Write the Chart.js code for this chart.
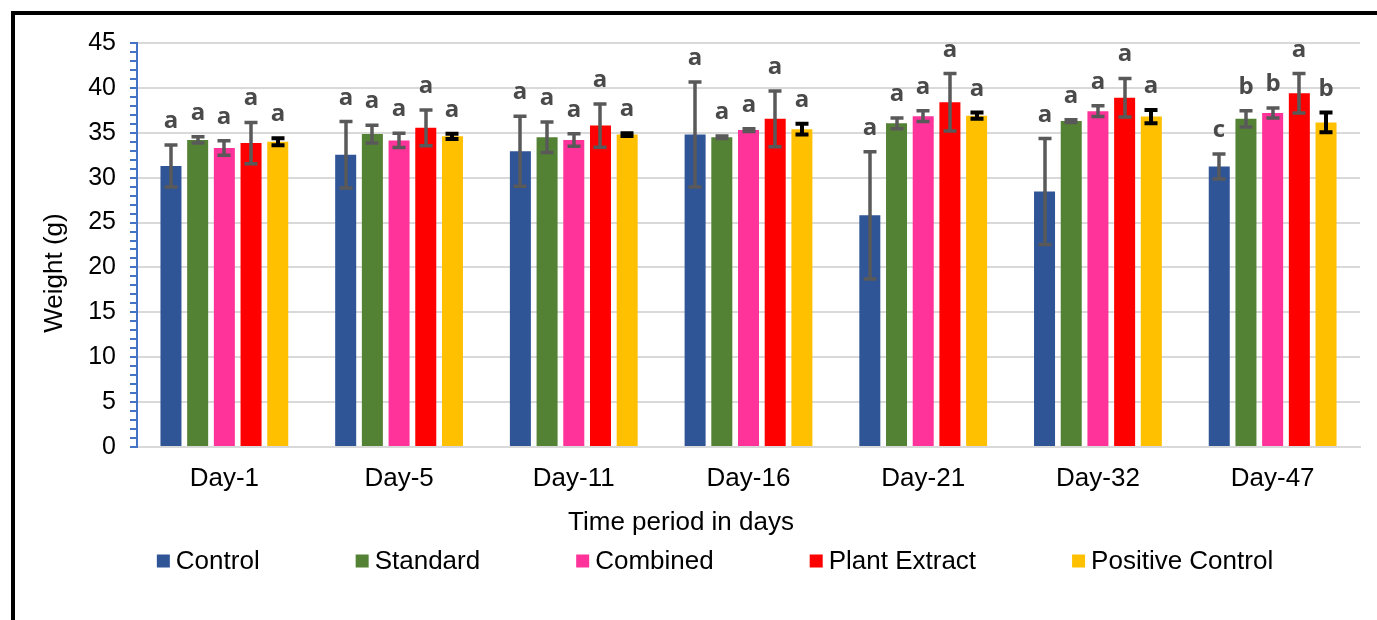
<!DOCTYPE html>
<html>
<head>
<meta charset="utf-8">
<script src="https://cdn.jsdelivr.net/npm/chart.js@4.4.0/dist/chart.umd.min.js"></script>
<style>
  html, body { margin: 0; padding: 0; background: #ffffff; }
  #wrap { width: 1377px; height: 620px; position: relative; }
</style>
</head>
<body>
<div id="wrap"><canvas id="c" width="1377" height="620"></canvas></div>
<script>
// ---- data ----
const categories = ['Day-1', 'Day-5', 'Day-11', 'Day-16', 'Day-21', 'Day-32', 'Day-47'];
const seriesNames = ['Control', 'Standard', 'Combined', 'Plant Extract', 'Positive Control'];
const control = [31.3, 32.55, 32.95, 34.8, 25.8, 28.45, 31.25];
const controlErr = [2.35, 3.7, 3.9, 5.85, 7.1, 5.9, 1.4];
const standard = [34.2, 34.85, 34.5, 34.5, 36.05, 36.3, 36.55];
const standardErr = [0.35, 1.0, 1.7, 0.15, 0.6, 0.15, 0.9];
const combined = [33.3, 34.15, 34.2, 35.3, 36.85, 37.4, 37.2];
const combinedErr = [0.8, 0.8, 0.7, 0.15, 0.6, 0.6, 0.55];
const plantExtract = [33.85, 35.55, 35.8, 36.55, 38.4, 38.9, 39.4];
const plantExtractErr = [2.3, 2.0, 2.4, 3.1, 3.2, 2.15, 2.2];
const positiveControl = [34.0, 34.6, 34.8, 35.4, 36.9, 36.8, 36.15];
const positiveControlErr = [0.4, 0.3, 0.15, 0.6, 0.35, 0.75, 1.1];
const controlLetters = ['a', 'a', 'a', 'a', 'a', 'a', 'c'];
const standardLetters = ['a', 'a', 'a', 'a', 'a', 'a', 'b'];
const combinedLetters = ['a', 'a', 'a', 'a', 'a', 'a', 'b'];
const plantExtractLetters = ['a', 'a', 'a', 'a', 'a', 'a', 'a'];
const positiveControlLetters = ['a', 'a', 'a', 'a', 'a', 'a', 'b'];
const yTickMin = 0, yTickMax = 45, yMajorStep = 5;

// ---- styles ----
const colors = ['#2F5597', '#548235', '#FF3399', '#FF0000', '#FFC000'];
const errColors = ['#595959', '#595959', '#595959', '#595959', '#000000'];
const values = [control, standard, combined, plantExtract, positiveControl];
const errors = [controlErr, standardErr, combinedErr, plantExtractErr, positiveControlErr];
const letters = [controlLetters, standardLetters, combinedLetters, plantExtractLetters, positiveControlLetters];
const FONT = 'Arial, "Liberation Sans", sans-serif';

const datasets = seriesNames.map((name, i) => ({
  label: name,
  data: values[i],
  backgroundColor: colors[i],
  borderWidth: 0,
  categoryPercentage: 0.764,
  barPercentage: 0.787
}));

const decorPlugin = {
  id: 'decor',
  afterDatasetsDraw(chart) {
    const ctx = chart.ctx;
    const ys = chart.scales.y;
    ctx.save();
    datasets.forEach((ds, i) => {
      const meta = chart.getDatasetMeta(i);
      meta.data.forEach((el, j) => {
        const v = values[i][j], e = errors[i][j];
        const yTop = ys.getPixelForValue(v + e);
        const yBot = ys.getPixelForValue(v - e);
        const x = Math.round(el.x);
        ctx.strokeStyle = errColors[i];
        ctx.lineWidth = i === 4 ? 4 : 3.5;
        ctx.lineCap = 'butt';
        ctx.beginPath();
        ctx.moveTo(x, yTop); ctx.lineTo(x, yBot);
        ctx.moveTo(x - 6.5, yTop); ctx.lineTo(x + 6.5, yTop);
        ctx.moveTo(x - 6.5, yBot); ctx.lineTo(x + 6.5, yBot);
        ctx.stroke();
        // significance letter
        ctx.fillStyle = '#4a4a4a';
        ctx.font = 'bold 24px "Open Sans", sans-serif';
        ctx.textAlign = 'center';
        ctx.textBaseline = 'alphabetic';
        ctx.fillText(letters[i][j], x, yTop - 17);
      });
    });
    ctx.restore();
  },
  afterDraw(chart) {
    const ctx = chart.ctx;
    ctx.save();
    // frame
    ctx.fillStyle = '#000000';
    ctx.fillRect(11, 11, chart.width - 11, 4);
    ctx.fillRect(11, 11, 4, chart.height - 11);
    // axis titles
    ctx.fillStyle = '#000000';
    ctx.font = '26px ' + FONT;
    ctx.textAlign = 'center';
    ctx.textBaseline = 'middle';
    ctx.fillText('Time period in days', 681, 523);
    ctx.save();
    ctx.translate(55, 273);
    ctx.rotate(-Math.PI / 2);
    ctx.fillText('Weight (g)', 0, 0);
    ctx.restore();
    // legend
    ctx.font = '26px ' + FONT;
    ctx.textAlign = 'left';
    const box = 13, boxGap = 6, itemGap = 96;
    const widths = seriesNames.map(n => ctx.measureText(n).width);
    const total = widths.reduce((a, w) => a + box + boxGap + w, 0) + itemGap * (seriesNames.length - 1);
    let x = 715 - total / 2;
    const ly = 561;
    seriesNames.forEach((n, i) => {
      ctx.fillStyle = colors[i];
      ctx.fillRect(x, ly - box / 2, box, box);
      ctx.fillStyle = '#000000';
      ctx.fillText(n, x + box + boxGap, ly + 1);
      x += box + boxGap + widths[i] + itemGap;
    });
    ctx.restore();
  }
};

new Chart(document.getElementById('c'), {
  type: 'bar',
  data: { labels: categories, datasets },
  options: {
    responsive: false,
    devicePixelRatio: 1,
    animation: false,
    layout: { padding: { left: 0, right: 17, top: 43, bottom: 0 } },
    plugins: { legend: { display: false }, tooltip: { enabled: false } },
    scales: {
      x: {
        afterFit(scale) { scale.height = 173; },
        grid: { display: true, drawOnChartArea: false, drawTicks: false },
        border: { display: true, color: '#d9d9d9', width: 2 },
        ticks: { color: '#000000', font: { family: FONT, size: 26 }, padding: 16 }
      },
      y: {
        min: yTickMin, max: yTickMax,
        afterFit(scale) { scale.width = 137; },
        ticks: {
          stepSize: 1, autoSkip: false,
          color: '#000000',
          font: { family: FONT, size: 25 },
          padding: 14,
          callback: (v) => (v % yMajorStep === 0 ? String(v) : '')
        },
        grid: {
          color: (c) => (c.tick && c.tick.value % yMajorStep === 0 ? '#d9d9d9' : 'rgba(0,0,0,0)'),
          lineWidth: 2,
          tickColor: '#4472C4',
          tickLength: 7,
          tickWidth: 2
        },
        border: { display: true, color: '#4472C4', width: 2 }
      }
    }
  },
  plugins: [decorPlugin]
});
</script>
</body>
</html>
